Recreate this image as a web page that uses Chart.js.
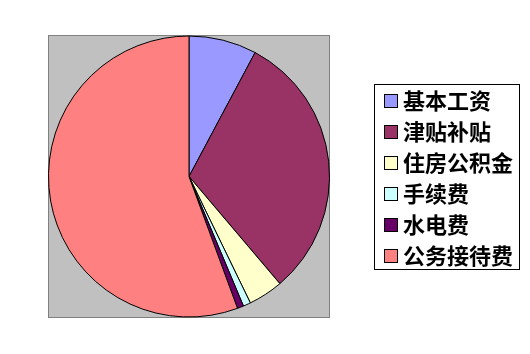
<!DOCTYPE html>
<html>
<head>
<meta charset="utf-8">
<script src="https://cdn.jsdelivr.net/npm/chart.js@4/dist/chart.umd.min.js"></script>
<style>
  html, body { margin: 0; padding: 0; background: #fff; }
  #box { width: 530px; height: 354px; }
</style>
</head>
<body>
<div id="box"><canvas id="grafico"></canvas></div>
<script>
// dados (percentuais aproximados)
var categorias = ['基本工资', '津贴补贴', '住房公积金', '手续费', '水电费', '公务接待费'];
var valores = [7.8, 31.0, 4.0, 0.86, 0.72, 55.6];
var cores = ['#9999FF', '#993366', '#FFFFCC', '#CCFFFF', '#660066', '#FF8080'];

// fundo cinza da area do grafico
var fundoPlot = {
    id: 'fundoPlot',
    beforeDatasetsDraw: function(chart){
        var a = chart.chartArea;
        var ctx = chart.ctx;
        ctx.save();
        ctx.fillStyle = '#C0C0C0';
        ctx.fillRect(a.left, a.top, a.right - a.left, a.bottom - a.top);
        ctx.strokeStyle = '#808080';
        ctx.lineWidth = 1;
        ctx.strokeRect(a.left + 0.5, a.top + 0.5, a.right - a.left - 1, a.bottom - a.top - 1);
        ctx.restore();
    }
};

// legenda com moldura, igual ao original
var legendaCaixa = {
    id: 'legendaCaixa',
    afterDraw: function(chart){
        var ctx = chart.ctx;
        var labels = chart.data.labels;
        var ds = chart.data.datasets[0];
        ctx.save();
        ctx.fillStyle = '#fff';
        ctx.fillRect(374, 84, 145, 185);
        ctx.strokeStyle = '#000';
        ctx.lineWidth = 1;
        ctx.strokeRect(374.5, 84.5, 145, 185);
        ctx.font = 'bold 22px "Noto Sans CJK SC"';
        ctx.textBaseline = 'middle';
        for (var i = 0; i < labels.length; i++) {
            var y = 100.5 + i * 31.1;
            ctx.fillStyle = ds.backgroundColor[i];
            ctx.fillRect(384, Math.round(y) - 7, 13, 13);
            ctx.strokeStyle = '#000';
            ctx.strokeRect(384.5, Math.round(y) - 6.5, 13, 13);
            ctx.fillStyle = '#000';
            ctx.fillText(labels[i], 403, y);
        }
        ctx.restore();
    }
};

var ctx = document.getElementById('grafico');
var grafico = new Chart(ctx, {
    type: 'pie',
    data: {
        labels: categorias,
        datasets: [{
            data: valores,
            backgroundColor: cores,
            borderColor: '#000',
            borderWidth: 1
        }]
    },
    options: {
        responsive: true,
        maintainAspectRatio: false,
        animation: false,
        layout: {
            padding: { left: 48, top: 35, right: 200, bottom: 36 }
        },
        plugins: {
            legend: { display: false },
            tooltip: { enabled: false }
        }
    },
    plugins: [fundoPlot, legendaCaixa]
});
</script>
</body>
</html>
